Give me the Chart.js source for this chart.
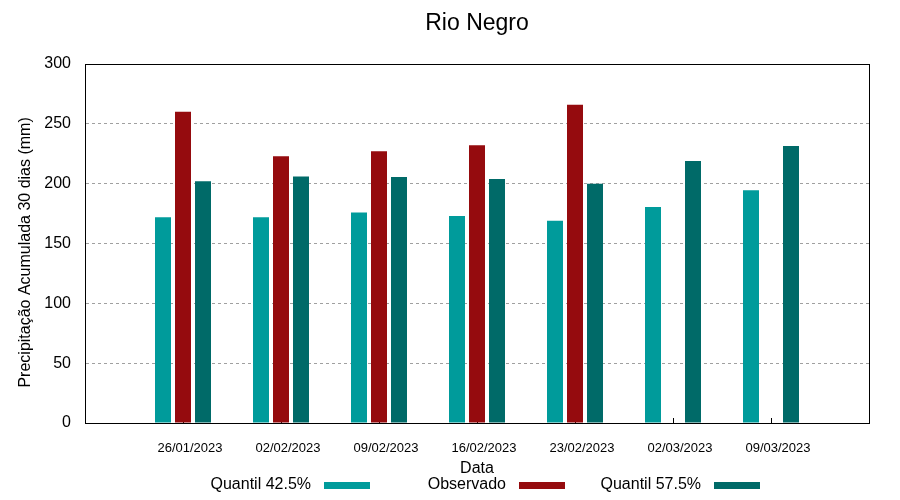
<!DOCTYPE html>
<html>
<head>
<meta charset="utf-8">
<title>Rio Negro</title>
<script src="https://cdn.jsdelivr.net/npm/chart.js@4.4.0/dist/chart.umd.min.js"></script>
<style>
  html, body { margin: 0; padding: 0; background: #fff; }
  #wrap { width: 900px; height: 500px; }
</style>
</head>
<body>
<div id="wrap"><canvas id="chuva"></canvas></div>
<script>
// Precipitação acumulada 30 dias - Rio Negro
const datas = ['26/01/2023', '02/02/2023', '09/02/2023', '16/02/2023', '23/02/2023', '02/03/2023', '09/03/2023'];
const quantil425 = [172, 172, 176, 173, 169, 180.5, 194.5];
const observado = [260, 223, 227, 232, 266, null, null];
const quantil575 = [202, 206, 205.5, 204, 200, 219, 231.5];
const yTicks = [0, 50, 100, 150, 200, 250, 300];

const FONT = '"Liberation Sans", Arial, sans-serif';

// one empty slot on each side, like the gnuplot x range
function comBorda(arr){
  return [null, ...arr, null];
}

// gnuplot style: small ticks pointing inwards
const ticksInternos = {
  id: 'ticksInternos',
  beforeDatasetsDraw(chart){
    const ctx = chart.ctx;
    const x = chart.scales.x;
    const bottom = chart.chartArea.bottom;
    ctx.save();
    ctx.strokeStyle = '#000';
    ctx.lineWidth = 1;
    ctx.beginPath();
    for (let i = 1; i <= datas.length; i++){
      const px = Math.round(x.getPixelForValue(i)) + 0.5;
      ctx.moveTo(px, bottom);
      ctx.lineTo(px, bottom - 5);
    }
    ctx.stroke();
    ctx.restore();
  }
};

// box around plot + legend with text left of the colour sample
const moldura = {
  id: 'moldura',
  afterDraw(chart){
    const ctx = chart.ctx;
    const a = chart.chartArea;
    ctx.save();
    ctx.strokeStyle = '#000';
    ctx.lineWidth = 1;
    ctx.strokeRect(Math.round(a.left) + 0.5, Math.round(a.top) + 0.5,
      Math.round(a.right - a.left), Math.round(a.bottom - a.top));

    ctx.font = '16px ' + FONT;
    ctx.textAlign = 'right';
    ctx.textBaseline = 'alphabetic';
    chart.data.datasets.forEach((ds, i) => {
      const boxRight = 370 + i * 195;
      ctx.fillStyle = '#000';
      ctx.fillText(ds.label, boxRight - 59, 489);
      ctx.fillStyle = ds.backgroundColor;
      ctx.fillRect(boxRight - 46, 482, 46, 7);
    });
    ctx.restore();
  }
};

const ctx = document.getElementById('chuva');
new Chart(ctx, {
  type: 'bar',
  data: {
    labels: ['', ...datas, ''],
    datasets: [
      { label: 'Quantil 42.5%', data: comBorda(quantil425), backgroundColor: '#009b9b' },
      { label: 'Observado', data: comBorda(observado), backgroundColor: '#950b0e' },
      { label: 'Quantil 57.5%', data: comBorda(quantil575), backgroundColor: '#006a68' }
    ]
  },
  options: {
    responsive: true,
    maintainAspectRatio: false,
    animation: false,
    categoryPercentage: 60 / 98,
    barPercentage: 0.8,
    layout: { padding: { left: 0, right: 31, top: 0, bottom: 0 } },
    plugins: {
      legend: { display: false },
      tooltip: { enabled: false },
      title: {
        display: true,
        fullSize: false,
        text: 'Rio Negro',
        color: '#000',
        font: { family: FONT, size: 23, weight: 'normal' },
        padding: { top: 10, bottom: 26.4 }
      }
    },
    scales: {
      x: {
        offset: false,
        grid: { display: false, drawTicks: false },
        border: { display: true, color: '#000', width: 1 },
        ticks: {
          autoSkip: false,
          maxRotation: 0,
          color: '#000',
          padding: 18,
          labelOffset: 7,
          font: { family: FONT, size: 13 }
        },
        title: {
          display: true,
          text: 'Data',
          color: '#000',
          font: { family: FONT, size: 16 },
          padding: { top: 0, bottom: 22 }
        },
        afterFit(scale){ scale.height = 77; }
      },
      y: {
        min: yTicks[0],
        max: yTicks[yTicks.length - 1],
        grid: { color: '#a0a0a0', lineWidth: 1, drawTicks: false },
        border: { display: true, color: '#000', width: 1, dash: [3, 3] },
        ticks: {
          stepSize: yTicks[1] - yTicks[0],
          color: '#000',
          padding: 14,
          font: { family: FONT, size: 16 }
        },
        title: {
          display: true,
          // trailing spaces push the label a little down, as in the original
          text: 'Precipitação Acumulada 30 dias (mm)    ',
          color: '#000',
          font: { family: FONT, size: 16 },
          padding: { top: 16, bottom: 0 }
        },
        afterFit(scale){ scale.width = 85; }
      }
    }
  },
  plugins: [ticksInternos, moldura]
});
</script>
</body>
</html>
